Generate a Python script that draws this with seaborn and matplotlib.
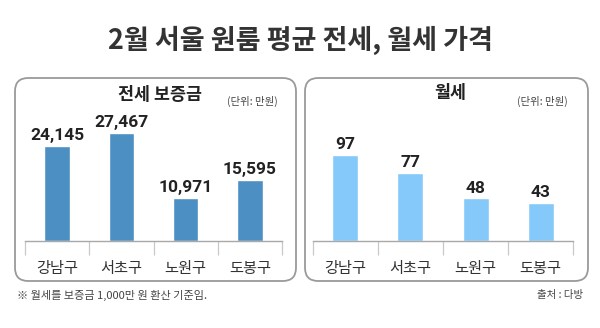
import matplotlib
matplotlib.use("Agg")
import matplotlib.pyplot as plt
from matplotlib.patches import FancyBboxPatch
import pandas as pd
import seaborn as sns

# Data
districts = ["강남구", "서초구", "노원구", "도봉구"]
jeonse_deposit = [24145, 27467, 10971, 15595]   # 전세 보증금 (만원)
monthly_rent = [97, 77, 48, 43]                  # 월세 (만원)

title = "2월 서울 원룸 평균 전세, 월세 가격"
panel_titles = ["전세 보증금", "월세"]
unit_label = "(단위: 만원)"
footnote = "※ 월세를 보증금 1,000만 원 환산 기준임."
source = "출처 : 다방"

sns.set_theme(style="white")
plt.rcParams["font.family"] = ["Noto Sans CJK KR", "DejaVu Sans"]

W, H = 600, 328
fig = plt.figure(figsize=(W / 100, H / 100), dpi=100)
fig.patch.set_facecolor("white")


def fx(px):
    return px / W


def fy(py):
    return 1 - py / H


# Rounded panel frames (drawn beneath the axes)
for x0, x1 in [(15, 296), (305, 588)]:
    box = FancyBboxPatch((fx(x0), fy(281)), fx(x1 - x0), (281 - 78) / H,
                         boxstyle="round,pad=0,rounding_size=0.022",
                         transform=fig.transFigure, facecolor="white",
                         edgecolor="#9a9a9a", linewidth=1.3, zorder=-5,
                         mutation_aspect=W / H)
    fig.patches.append(box)

fig.text(0.5, fy(40), title, ha="center", va="center",
         fontsize=19.5, fontweight="bold", color="#333333")

panels = [
    dict(vals=jeonse_deposit, color="#4b8fc3", left=25, right=282,
         ytop=35860, tx=160, ty=95, ux=252, uy=101, name=panel_titles[0]),
    dict(vals=monthly_rent, color="#85c9fb", left=313, right=573,
         ytop=159, tx=450, ty=93, ux=542, uy=101, name=panel_titles[1]),
]

base_y, top_y = 241, 100
for p in panels:
    ax = fig.add_axes([fx(p["left"]), fy(base_y), fx(p["right"] - p["left"]),
                       (base_y - top_y) / H], zorder=2)
    df = pd.DataFrame({"district": districts, "value": p["vals"]})
    sns.barplot(data=df, x="district", y="value", color=p["color"],
                saturation=1, width=0.4, ax=ax)
    ax.set_facecolor("none")
    ax.patch.set_alpha(0)
    ax.set_xlim(-0.5, len(districts) - 0.5)
    ax.set_ylim(0, p["ytop"])
    ax.set_xlabel("")
    ax.set_ylabel("")
    ax.set_yticks([])
    for s in ["top", "right", "left"]:
        ax.spines[s].set_visible(False)
    ax.spines["bottom"].set_color("#a8a8a8")
    ax.spines["bottom"].set_linewidth(1.0)
    # category separators below the baseline
    ax.set_xticks([i - 0.5 for i in range(len(districts) + 1)], minor=True)
    ax.tick_params(axis="x", which="minor", bottom=True, length=10,
                   width=0.9, color="#c8c8c8", direction="out")
    ax.tick_params(axis="x", which="major", bottom=False, pad=8,
                   labelsize=11, labelcolor="#333333")
    for i, v in enumerate(p["vals"]):
        ax.annotate(f"{v:,}", (i, v), xytext=(0, 2), textcoords="offset points",
                    ha="center", va="bottom", fontsize=12.5,
                    fontweight="bold", color="#222222",
                    family=["Roboto", "DejaVu Sans"])
    fig.text(fx(p["tx"]), fy(p["ty"]), p["name"], ha="center", va="center",
             fontsize=12.5, fontweight="bold", color="#222222")
    fig.text(fx(p["ux"]), fy(p["uy"]), unit_label, ha="center", va="center",
             fontsize=7.5, color="#444444")

fig.text(fx(17), fy(295), footnote, ha="left", va="center",
         fontsize=8, color="#444444")
fig.text(fx(583), fy(295), source, ha="right", va="center",
         fontsize=7.5, color="#444444")

fig.savefig("out.png", dpi=100, facecolor="white")
